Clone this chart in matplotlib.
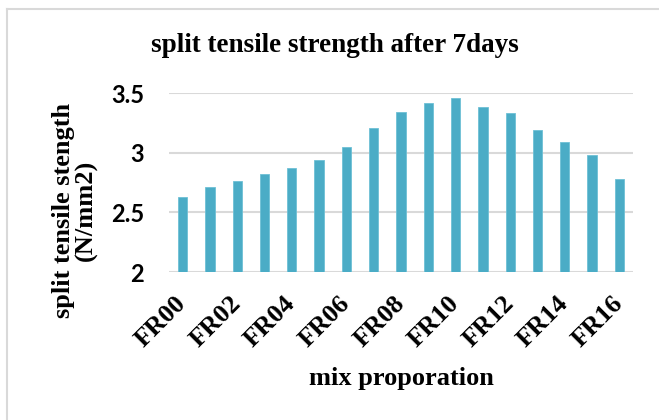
import matplotlib
matplotlib.use("Agg")
import matplotlib.pyplot as plt
from matplotlib.lines import Line2D

categories = ["FR00", "FR01", "FR02", "FR03", "FR04", "FR05", "FR06", "FR07", "FR08",
              "FR09", "FR10", "FR11", "FR12", "FR13", "FR14", "FR15", "FR16"]
values = [2.63, 2.71, 2.76, 2.82, 2.87, 2.94, 3.05, 3.21, 3.34,
          3.42, 3.46, 3.38, 3.33, 3.19, 3.09, 2.98, 2.78]
yticks = [2, 2.5, 3, 3.5]
ytick_labels = ["2", "2.5", "3", "3.5"]

W, H = 659, 420
fig = plt.figure(figsize=(W / 100, H / 100), dpi=100)
ax = fig.add_axes([169 / W, 1 - 272 / H, (633 - 169) / W, (272 - 93) / H])

x = list(range(len(categories)))
ax.bar(x, values, width=0.34, color="#4BACC6", edgecolor="#6EC0D6", linewidth=0.6, zorder=3)

ax.set_xlim(-0.5, len(categories) - 0.5)
ax.set_ylim(2, 3.5)
ax.set_yticks(yticks)
ax.set_yticklabels(ytick_labels, fontfamily="Lato", fontweight="bold", fontsize=17)
ax.set_xticks(x[::2])
ax.set_xticklabels(categories[::2], rotation=45, ha="right", va="center", rotation_mode="anchor",
                   fontfamily="Liberation Serif", fontweight="bold", fontsize=19)
ax.tick_params(axis="both", length=0)
ax.tick_params(axis="y", pad=18)
ax.tick_params(axis="x", pad=20)
ax.grid(axis="y", color="#D9D9D9", linewidth=1.5, zorder=0)
for s in ax.spines.values():
    s.set_visible(False)

fig.text(335 / W, 1 - 46 / H, "split tensile strength after 7days", ha="center", va="center",
         fontfamily="Liberation Serif", fontweight="bold", fontsize=19.5)
fig.text(401 / W, 1 - 379 / H, "mix proporation", ha="center", va="center",
         fontfamily="Liberation Serif", fontweight="bold", fontsize=19)
fig.text(75 / W, 1 - 210 / H, "split tensile stength\n(N/mm2)", ha="center", va="center",
         rotation=90, multialignment="center", linespacing=1.0,
         fontfamily="Liberation Serif", fontweight="bold", fontsize=19)

# chart-area border (top and left visible)
fig.add_artist(Line2D([7 / W, 1.0], [1 - 9 / H, 1 - 9 / H], transform=fig.transFigure,
                      color="#D9D9D9", linewidth=1.5))
fig.add_artist(Line2D([7 / W, 7 / W], [0.0, 1 - 9 / H], transform=fig.transFigure,
                      color="#D9D9D9", linewidth=1.5))

fig.savefig("out.png", dpi=100)
